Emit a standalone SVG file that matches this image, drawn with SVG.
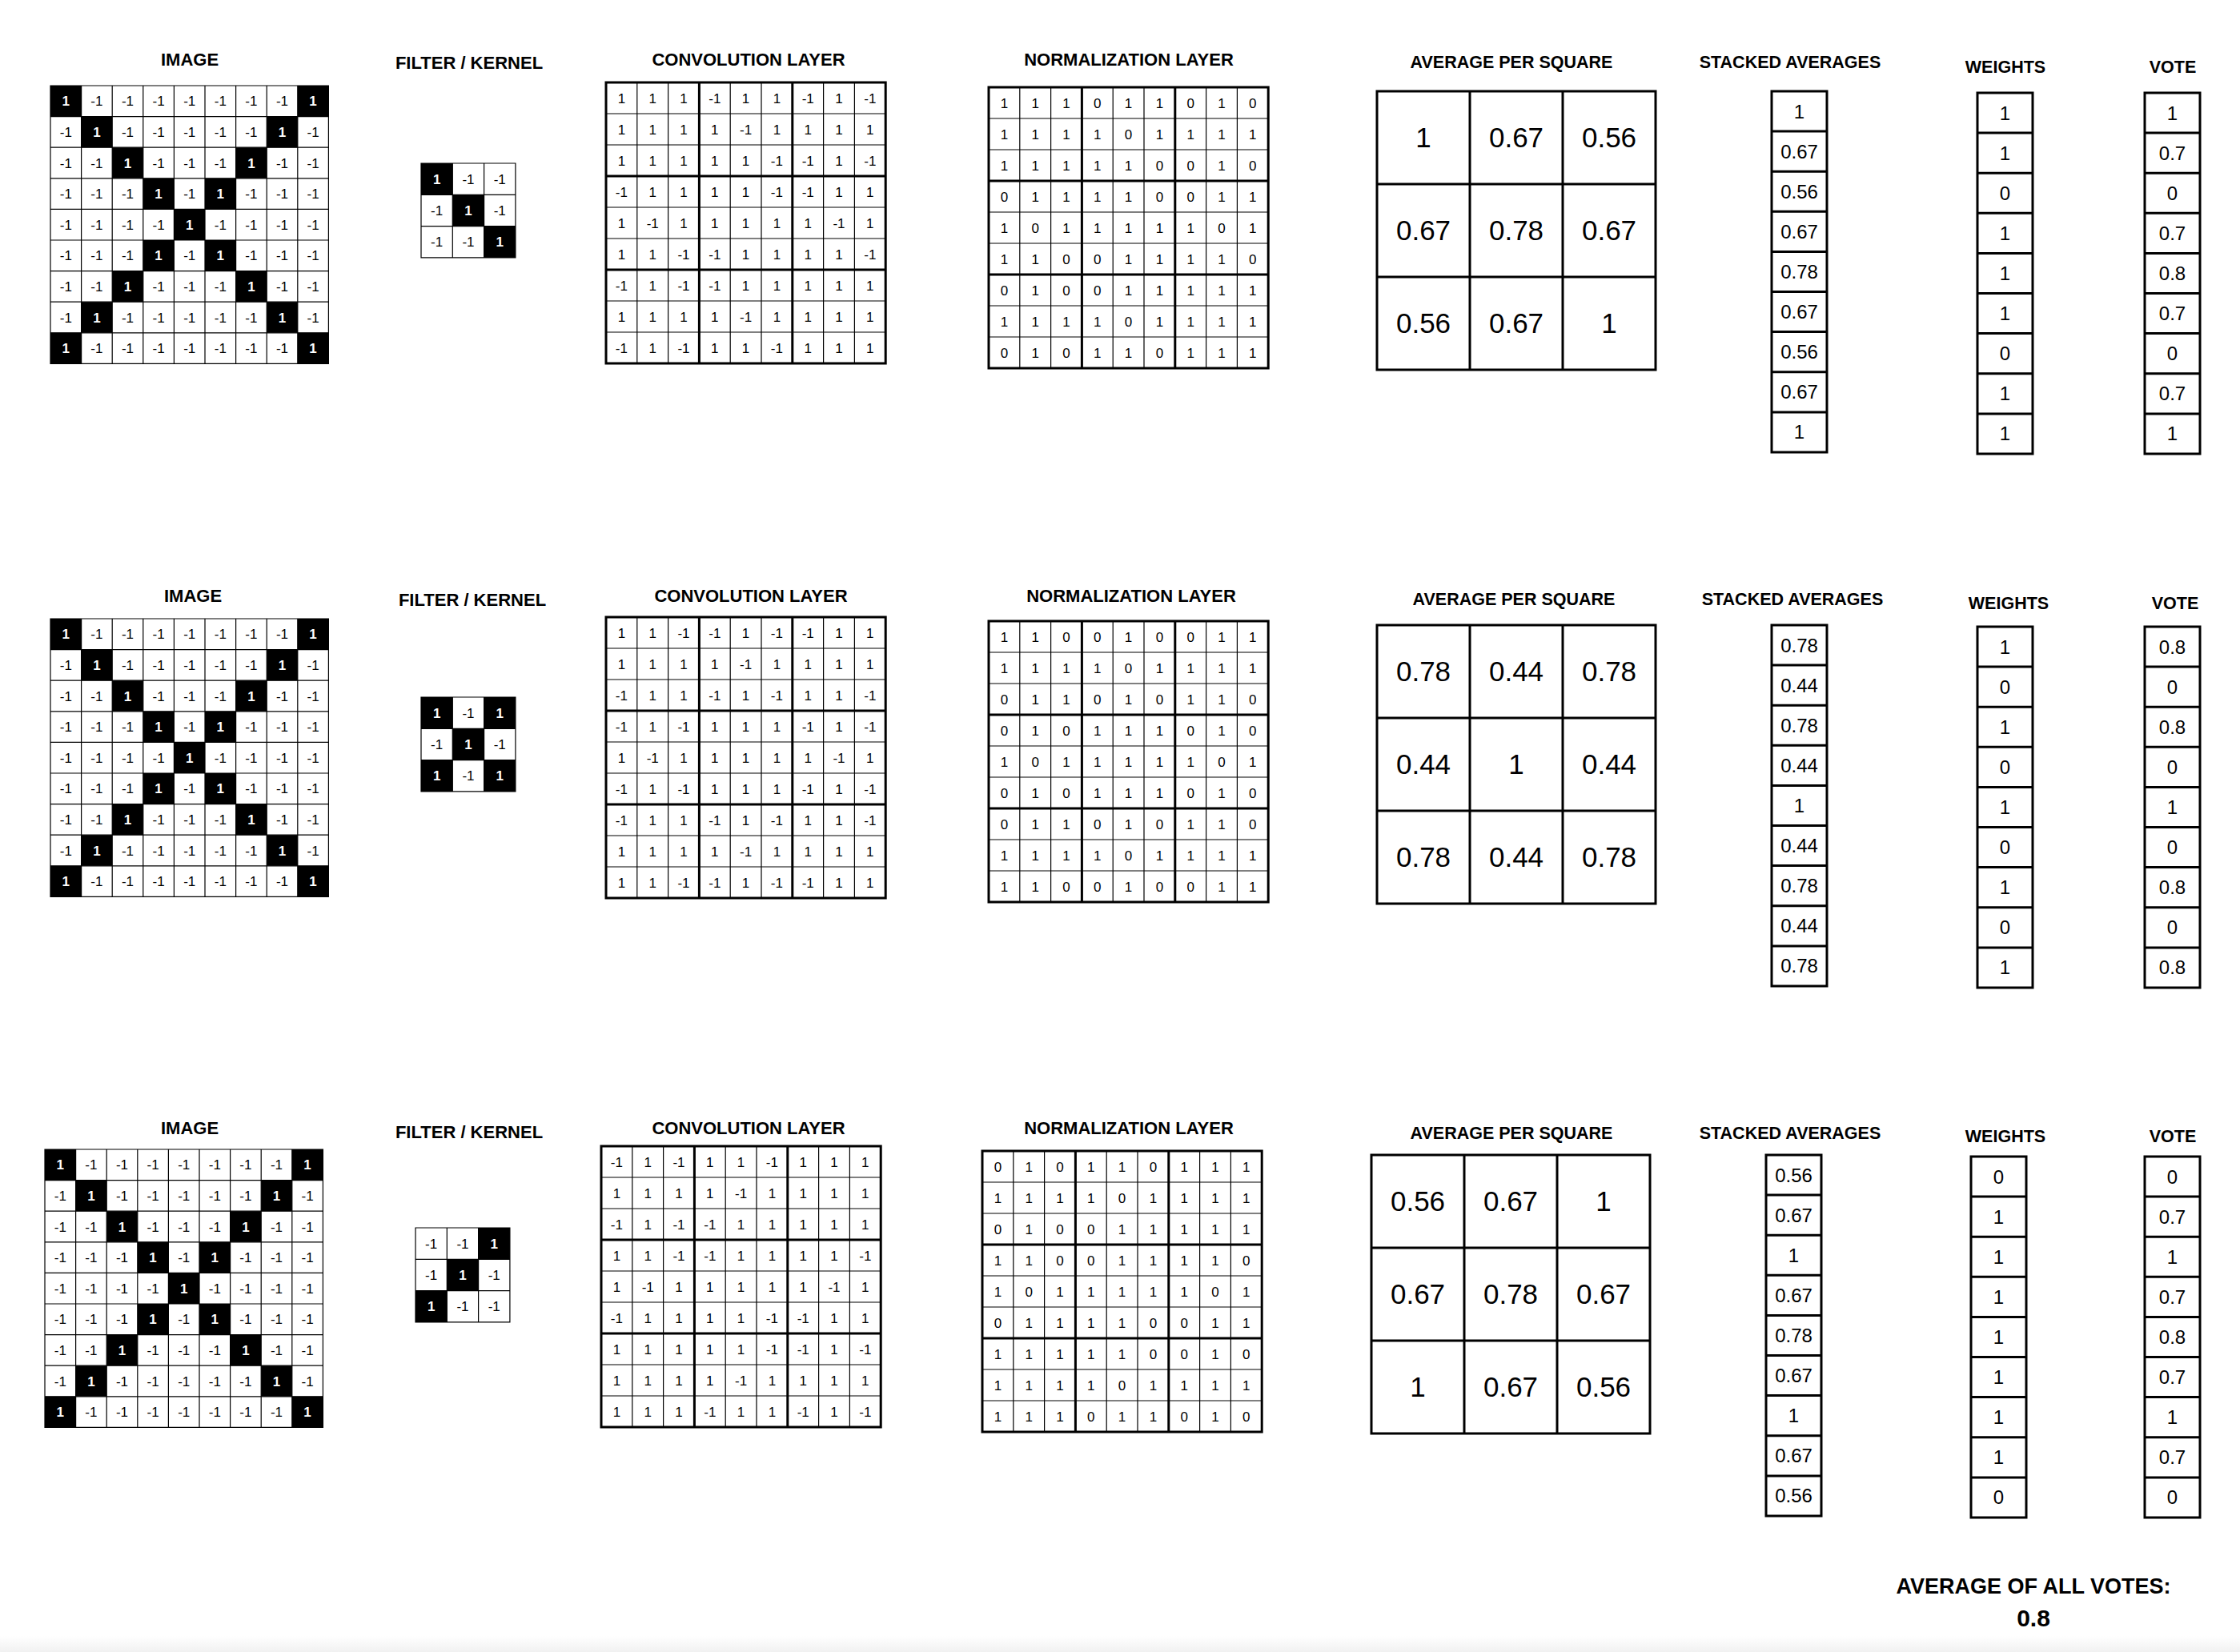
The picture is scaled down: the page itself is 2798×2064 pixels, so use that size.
<svg xmlns="http://www.w3.org/2000/svg" xmlns:xlink="http://www.w3.org/1999/xlink" width="2798" height="2064" viewBox="0 0 2798 2064">
<style>
.t{font-family:'Liberation Sans',Arial,Helvetica,sans-serif;text-anchor:middle;fill:#000}
.h{font-weight:bold;font-size:22px}
.hs{font-weight:bold;font-size:21.5px}
.n{font-size:17px}
.w{font-weight:bold;fill:#fff}
.a{font-size:35px}
.s{font-size:24px}
.thin{fill:none;stroke:#000;stroke-width:1.2}
.thick{fill:none;stroke:#000;stroke-width:3}
</style>
<defs>
<linearGradient id="fade" x1="0" y1="0" x2="0" y2="1"><stop offset="0" stop-color="#fff"/><stop offset="1" stop-color="#f1f1f1"/></linearGradient>
<g id="imgbase">
<rect width="347.4" height="347.4" fill="#fff"/>
<path fill="#000" d="M0 0h38.6v38.6h-38.6zM308.8 0h38.6v38.6h-38.6zM38.6 38.6h38.6v38.6h-38.6zM270.2 38.6h38.6v38.6h-38.6zM77.2 77.2h38.6v38.6h-38.6zM231.6 77.2h38.6v38.6h-38.6zM115.8 115.8h38.6v38.6h-38.6zM193 115.8h38.6v38.6h-38.6zM154.4 154.4h38.6v38.6h-38.6zM115.8 193h38.6v38.6h-38.6zM193 193h38.6v38.6h-38.6zM77.2 231.6h38.6v38.6h-38.6zM231.6 231.6h38.6v38.6h-38.6zM38.6 270.2h38.6v38.6h-38.6zM270.2 270.2h38.6v38.6h-38.6zM0 308.8h38.6v38.6h-38.6zM308.8 308.8h38.6v38.6h-38.6z"/>
<path class="thin" d="M0 0h347.4v347.4h-347.4zM38.6 0V347.4M77.2 0V347.4M115.8 0V347.4M154.4 0V347.4M193 0V347.4M231.6 0V347.4M270.2 0V347.4M308.8 0V347.4M0 38.6H347.4M0 77.2H347.4M0 115.8H347.4M0 154.4H347.4M0 193H347.4M0 231.6H347.4M0 270.2H347.4M0 308.8H347.4"/>
</g>
<g id="cnbase">
<rect width="349.2" height="351" fill="#fff"/>
<path class="thin" d="M38.8 0V351M77.6 0V351M155.2 0V351M194 0V351M271.6 0V351M310.4 0V351M0 39H349.2M0 78H349.2M0 156H349.2M0 195H349.2M0 273H349.2M0 312H349.2"/>
<path class="thick" d="M0 0h349.2v351h-349.2zM116.4 0V351M232.8 0V351M0 117H349.2M0 234H349.2"/>
</g>
<g id="avgbase">
<rect width="348" height="348" fill="#fff"/>
<path class="thick" d="M0 0h348v348h-348zM116 0V348M232 0V348M0 116H348M0 232H348"/>
</g>
<g id="colbase">
<rect width="69" height="451" fill="#fff"/>
<path class="thick" d="M0 0h69v451h-69zM0 50.1H69M0 100.2H69M0 150.3H69M0 200.4H69M0 250.5H69M0 300.6H69M0 350.8H69M0 400.9H69"/>
</g>
<path id="fgrid" class="thin" d="M0 0h117.9v117.9h-117.9zM39.3 0V117.9M78.6 0V117.9M0 39.3H117.9M0 78.6H117.9"/>
</defs>
<rect width="2798" height="2064" fill="#fff"/>
<rect y="2044" width="2798" height="20" fill="url(#fade)"/>

<!-- ================= ROW 1 ================= -->
<g id="r1-image">
<text class="t h" x="237" y="82">IMAGE</text>
<g transform="translate(63,107)">
<use href="#imgbase"/>
<g class="t n">
<text y="25.3"><tspan class="w" x="19.3">1</tspan><tspan x="57.9">-1</tspan><tspan x="96.5">-1</tspan><tspan x="135.1">-1</tspan><tspan x="173.7">-1</tspan><tspan x="212.3">-1</tspan><tspan x="250.9">-1</tspan><tspan x="289.5">-1</tspan><tspan class="w" x="328.1">1</tspan></text>
<text y="63.9"><tspan x="19.3">-1</tspan><tspan class="w" x="57.9">1</tspan><tspan x="96.5">-1</tspan><tspan x="135.1">-1</tspan><tspan x="173.7">-1</tspan><tspan x="212.3">-1</tspan><tspan x="250.9">-1</tspan><tspan class="w" x="289.5">1</tspan><tspan x="328.1">-1</tspan></text>
<text y="102.5"><tspan x="19.3">-1</tspan><tspan x="57.9">-1</tspan><tspan class="w" x="96.5">1</tspan><tspan x="135.1">-1</tspan><tspan x="173.7">-1</tspan><tspan x="212.3">-1</tspan><tspan class="w" x="250.9">1</tspan><tspan x="289.5">-1</tspan><tspan x="328.1">-1</tspan></text>
<text y="141.1"><tspan x="19.3">-1</tspan><tspan x="57.9">-1</tspan><tspan x="96.5">-1</tspan><tspan class="w" x="135.1">1</tspan><tspan x="173.7">-1</tspan><tspan class="w" x="212.3">1</tspan><tspan x="250.9">-1</tspan><tspan x="289.5">-1</tspan><tspan x="328.1">-1</tspan></text>
<text y="179.7"><tspan x="19.3">-1</tspan><tspan x="57.9">-1</tspan><tspan x="96.5">-1</tspan><tspan x="135.1">-1</tspan><tspan class="w" x="173.7">1</tspan><tspan x="212.3">-1</tspan><tspan x="250.9">-1</tspan><tspan x="289.5">-1</tspan><tspan x="328.1">-1</tspan></text>
<text y="218.3"><tspan x="19.3">-1</tspan><tspan x="57.9">-1</tspan><tspan x="96.5">-1</tspan><tspan class="w" x="135.1">1</tspan><tspan x="173.7">-1</tspan><tspan class="w" x="212.3">1</tspan><tspan x="250.9">-1</tspan><tspan x="289.5">-1</tspan><tspan x="328.1">-1</tspan></text>
<text y="256.9"><tspan x="19.3">-1</tspan><tspan x="57.9">-1</tspan><tspan class="w" x="96.5">1</tspan><tspan x="135.1">-1</tspan><tspan x="173.7">-1</tspan><tspan x="212.3">-1</tspan><tspan class="w" x="250.9">1</tspan><tspan x="289.5">-1</tspan><tspan x="328.1">-1</tspan></text>
<text y="295.5"><tspan x="19.3">-1</tspan><tspan class="w" x="57.9">1</tspan><tspan x="96.5">-1</tspan><tspan x="135.1">-1</tspan><tspan x="173.7">-1</tspan><tspan x="212.3">-1</tspan><tspan x="250.9">-1</tspan><tspan class="w" x="289.5">1</tspan><tspan x="328.1">-1</tspan></text>
<text y="334.1"><tspan class="w" x="19.3">1</tspan><tspan x="57.9">-1</tspan><tspan x="96.5">-1</tspan><tspan x="135.1">-1</tspan><tspan x="173.7">-1</tspan><tspan x="212.3">-1</tspan><tspan x="250.9">-1</tspan><tspan x="289.5">-1</tspan><tspan class="w" x="328.1">1</tspan></text>
</g></g></g>

<g id="r1-filter">
<text class="t h" x="586" y="86">FILTER / KERNEL</text>
<g transform="translate(526,204)">
<rect width="117.9" height="117.9" fill="#fff"/>
<path fill="#000" d="M0 0h39.3v39.3h-39.3zM39.3 39.3h39.3v39.3h-39.3zM78.6 78.6h39.3v39.3h-39.3z"/>
<use href="#fgrid"/>
<g class="t n">
<text y="25.6"><tspan class="w" x="19.65">1</tspan><tspan x="58.95">-1</tspan><tspan x="98.25">-1</tspan></text>
<text y="64.9"><tspan x="19.65">-1</tspan><tspan class="w" x="58.95">1</tspan><tspan x="98.25">-1</tspan></text>
<text y="104.2"><tspan x="19.65">-1</tspan><tspan x="58.95">-1</tspan><tspan class="w" x="98.25">1</tspan></text>
</g></g></g>

<g id="r1-conv">
<text class="t h" x="935" y="82">CONVOLUTION LAYER</text>
<g transform="translate(757,103)">
<use href="#cnbase"/>
<g class="t n">
<text y="25.5"><tspan x="19.4">1</tspan><tspan x="58.2">1</tspan><tspan x="97">1</tspan><tspan x="135.8">-1</tspan><tspan x="174.6">1</tspan><tspan x="213.4">1</tspan><tspan x="252.2">-1</tspan><tspan x="291">1</tspan><tspan x="329.8">-1</tspan></text>
<text y="64.5"><tspan x="19.4">1</tspan><tspan x="58.2">1</tspan><tspan x="97">1</tspan><tspan x="135.8">1</tspan><tspan x="174.6">-1</tspan><tspan x="213.4">1</tspan><tspan x="252.2">1</tspan><tspan x="291">1</tspan><tspan x="329.8">1</tspan></text>
<text y="103.5"><tspan x="19.4">1</tspan><tspan x="58.2">1</tspan><tspan x="97">1</tspan><tspan x="135.8">1</tspan><tspan x="174.6">1</tspan><tspan x="213.4">-1</tspan><tspan x="252.2">-1</tspan><tspan x="291">1</tspan><tspan x="329.8">-1</tspan></text>
<text y="142.5"><tspan x="19.4">-1</tspan><tspan x="58.2">1</tspan><tspan x="97">1</tspan><tspan x="135.8">1</tspan><tspan x="174.6">1</tspan><tspan x="213.4">-1</tspan><tspan x="252.2">-1</tspan><tspan x="291">1</tspan><tspan x="329.8">1</tspan></text>
<text y="181.5"><tspan x="19.4">1</tspan><tspan x="58.2">-1</tspan><tspan x="97">1</tspan><tspan x="135.8">1</tspan><tspan x="174.6">1</tspan><tspan x="213.4">1</tspan><tspan x="252.2">1</tspan><tspan x="291">-1</tspan><tspan x="329.8">1</tspan></text>
<text y="220.5"><tspan x="19.4">1</tspan><tspan x="58.2">1</tspan><tspan x="97">-1</tspan><tspan x="135.8">-1</tspan><tspan x="174.6">1</tspan><tspan x="213.4">1</tspan><tspan x="252.2">1</tspan><tspan x="291">1</tspan><tspan x="329.8">-1</tspan></text>
<text y="259.5"><tspan x="19.4">-1</tspan><tspan x="58.2">1</tspan><tspan x="97">-1</tspan><tspan x="135.8">-1</tspan><tspan x="174.6">1</tspan><tspan x="213.4">1</tspan><tspan x="252.2">1</tspan><tspan x="291">1</tspan><tspan x="329.8">1</tspan></text>
<text y="298.5"><tspan x="19.4">1</tspan><tspan x="58.2">1</tspan><tspan x="97">1</tspan><tspan x="135.8">1</tspan><tspan x="174.6">-1</tspan><tspan x="213.4">1</tspan><tspan x="252.2">1</tspan><tspan x="291">1</tspan><tspan x="329.8">1</tspan></text>
<text y="337.5"><tspan x="19.4">-1</tspan><tspan x="58.2">1</tspan><tspan x="97">-1</tspan><tspan x="135.8">1</tspan><tspan x="174.6">1</tspan><tspan x="213.4">-1</tspan><tspan x="252.2">1</tspan><tspan x="291">1</tspan><tspan x="329.8">1</tspan></text>
</g></g></g>

<g id="r1-norm">
<text class="t h" x="1410" y="82">NORMALIZATION LAYER</text>
<g transform="translate(1235,109)">
<use href="#cnbase"/>
<g class="t n">
<text y="25.5"><tspan x="19.4">1</tspan><tspan x="58.2">1</tspan><tspan x="97">1</tspan><tspan x="135.8">0</tspan><tspan x="174.6">1</tspan><tspan x="213.4">1</tspan><tspan x="252.2">0</tspan><tspan x="291">1</tspan><tspan x="329.8">0</tspan></text>
<text y="64.5"><tspan x="19.4">1</tspan><tspan x="58.2">1</tspan><tspan x="97">1</tspan><tspan x="135.8">1</tspan><tspan x="174.6">0</tspan><tspan x="213.4">1</tspan><tspan x="252.2">1</tspan><tspan x="291">1</tspan><tspan x="329.8">1</tspan></text>
<text y="103.5"><tspan x="19.4">1</tspan><tspan x="58.2">1</tspan><tspan x="97">1</tspan><tspan x="135.8">1</tspan><tspan x="174.6">1</tspan><tspan x="213.4">0</tspan><tspan x="252.2">0</tspan><tspan x="291">1</tspan><tspan x="329.8">0</tspan></text>
<text y="142.5"><tspan x="19.4">0</tspan><tspan x="58.2">1</tspan><tspan x="97">1</tspan><tspan x="135.8">1</tspan><tspan x="174.6">1</tspan><tspan x="213.4">0</tspan><tspan x="252.2">0</tspan><tspan x="291">1</tspan><tspan x="329.8">1</tspan></text>
<text y="181.5"><tspan x="19.4">1</tspan><tspan x="58.2">0</tspan><tspan x="97">1</tspan><tspan x="135.8">1</tspan><tspan x="174.6">1</tspan><tspan x="213.4">1</tspan><tspan x="252.2">1</tspan><tspan x="291">0</tspan><tspan x="329.8">1</tspan></text>
<text y="220.5"><tspan x="19.4">1</tspan><tspan x="58.2">1</tspan><tspan x="97">0</tspan><tspan x="135.8">0</tspan><tspan x="174.6">1</tspan><tspan x="213.4">1</tspan><tspan x="252.2">1</tspan><tspan x="291">1</tspan><tspan x="329.8">0</tspan></text>
<text y="259.5"><tspan x="19.4">0</tspan><tspan x="58.2">1</tspan><tspan x="97">0</tspan><tspan x="135.8">0</tspan><tspan x="174.6">1</tspan><tspan x="213.4">1</tspan><tspan x="252.2">1</tspan><tspan x="291">1</tspan><tspan x="329.8">1</tspan></text>
<text y="298.5"><tspan x="19.4">1</tspan><tspan x="58.2">1</tspan><tspan x="97">1</tspan><tspan x="135.8">1</tspan><tspan x="174.6">0</tspan><tspan x="213.4">1</tspan><tspan x="252.2">1</tspan><tspan x="291">1</tspan><tspan x="329.8">1</tspan></text>
<text y="337.5"><tspan x="19.4">0</tspan><tspan x="58.2">1</tspan><tspan x="97">0</tspan><tspan x="135.8">1</tspan><tspan x="174.6">1</tspan><tspan x="213.4">0</tspan><tspan x="252.2">1</tspan><tspan x="291">1</tspan><tspan x="329.8">1</tspan></text>
</g></g></g>

<g id="r1-avg">
<text class="t hs" x="1888" y="85">AVERAGE PER SQUARE</text>
<g transform="translate(1720,114)">
<use href="#avgbase"/>
<g class="t a">
<text y="70"><tspan x="58">1</tspan><tspan x="174">0.67</tspan><tspan x="290">0.56</tspan></text>
<text y="186"><tspan x="58">0.67</tspan><tspan x="174">0.78</tspan><tspan x="290">0.67</tspan></text>
<text y="302"><tspan x="58">0.56</tspan><tspan x="174">0.67</tspan><tspan x="290">1</tspan></text>
</g></g></g>

<g id="r1-stacked">
<text class="t hs" x="2236" y="85">STACKED AVERAGES</text>
<g transform="translate(2213,114)">
<use href="#colbase"/>
<text class="t s"><tspan x="34.5" y="33.5">1</tspan><tspan x="34.5" y="83.6">0.67</tspan><tspan x="34.5" y="133.7">0.56</tspan><tspan x="34.5" y="183.8">0.67</tspan><tspan x="34.5" y="233.9">0.78</tspan><tspan x="34.5" y="284">0.67</tspan><tspan x="34.5" y="334.1">0.56</tspan><tspan x="34.5" y="384.2">0.67</tspan><tspan x="34.5" y="434.3">1</tspan></text>
</g></g>

<g id="r1-weights">
<text class="t hs" x="2505" y="91">WEIGHTS</text>
<g transform="translate(2470,116)">
<use href="#colbase"/>
<text class="t s"><tspan x="34.5" y="33.5">1</tspan><tspan x="34.5" y="83.6">1</tspan><tspan x="34.5" y="133.7">0</tspan><tspan x="34.5" y="183.8">1</tspan><tspan x="34.5" y="233.9">1</tspan><tspan x="34.5" y="284">1</tspan><tspan x="34.5" y="334.1">0</tspan><tspan x="34.5" y="384.2">1</tspan><tspan x="34.5" y="434.3">1</tspan></text>
</g></g>

<g id="r1-vote">
<text class="t hs" x="2714" y="91">VOTE</text>
<g transform="translate(2679,116)">
<use href="#colbase"/>
<text class="t s"><tspan x="34.5" y="33.5">1</tspan><tspan x="34.5" y="83.6">0.7</tspan><tspan x="34.5" y="133.7">0</tspan><tspan x="34.5" y="183.8">0.7</tspan><tspan x="34.5" y="233.9">0.8</tspan><tspan x="34.5" y="284">0.7</tspan><tspan x="34.5" y="334.1">0</tspan><tspan x="34.5" y="384.2">0.7</tspan><tspan x="34.5" y="434.3">1</tspan></text>
</g></g>

<!-- ================= ROW 2 ================= -->
<g id="r2-image">
<text class="t h" x="241" y="752">IMAGE</text>
<g transform="translate(63,773)">
<use href="#imgbase"/>
<g class="t n">
<text y="25.3"><tspan class="w" x="19.3">1</tspan><tspan x="57.9">-1</tspan><tspan x="96.5">-1</tspan><tspan x="135.1">-1</tspan><tspan x="173.7">-1</tspan><tspan x="212.3">-1</tspan><tspan x="250.9">-1</tspan><tspan x="289.5">-1</tspan><tspan class="w" x="328.1">1</tspan></text>
<text y="63.9"><tspan x="19.3">-1</tspan><tspan class="w" x="57.9">1</tspan><tspan x="96.5">-1</tspan><tspan x="135.1">-1</tspan><tspan x="173.7">-1</tspan><tspan x="212.3">-1</tspan><tspan x="250.9">-1</tspan><tspan class="w" x="289.5">1</tspan><tspan x="328.1">-1</tspan></text>
<text y="102.5"><tspan x="19.3">-1</tspan><tspan x="57.9">-1</tspan><tspan class="w" x="96.5">1</tspan><tspan x="135.1">-1</tspan><tspan x="173.7">-1</tspan><tspan x="212.3">-1</tspan><tspan class="w" x="250.9">1</tspan><tspan x="289.5">-1</tspan><tspan x="328.1">-1</tspan></text>
<text y="141.1"><tspan x="19.3">-1</tspan><tspan x="57.9">-1</tspan><tspan x="96.5">-1</tspan><tspan class="w" x="135.1">1</tspan><tspan x="173.7">-1</tspan><tspan class="w" x="212.3">1</tspan><tspan x="250.9">-1</tspan><tspan x="289.5">-1</tspan><tspan x="328.1">-1</tspan></text>
<text y="179.7"><tspan x="19.3">-1</tspan><tspan x="57.9">-1</tspan><tspan x="96.5">-1</tspan><tspan x="135.1">-1</tspan><tspan class="w" x="173.7">1</tspan><tspan x="212.3">-1</tspan><tspan x="250.9">-1</tspan><tspan x="289.5">-1</tspan><tspan x="328.1">-1</tspan></text>
<text y="218.3"><tspan x="19.3">-1</tspan><tspan x="57.9">-1</tspan><tspan x="96.5">-1</tspan><tspan class="w" x="135.1">1</tspan><tspan x="173.7">-1</tspan><tspan class="w" x="212.3">1</tspan><tspan x="250.9">-1</tspan><tspan x="289.5">-1</tspan><tspan x="328.1">-1</tspan></text>
<text y="256.9"><tspan x="19.3">-1</tspan><tspan x="57.9">-1</tspan><tspan class="w" x="96.5">1</tspan><tspan x="135.1">-1</tspan><tspan x="173.7">-1</tspan><tspan x="212.3">-1</tspan><tspan class="w" x="250.9">1</tspan><tspan x="289.5">-1</tspan><tspan x="328.1">-1</tspan></text>
<text y="295.5"><tspan x="19.3">-1</tspan><tspan class="w" x="57.9">1</tspan><tspan x="96.5">-1</tspan><tspan x="135.1">-1</tspan><tspan x="173.7">-1</tspan><tspan x="212.3">-1</tspan><tspan x="250.9">-1</tspan><tspan class="w" x="289.5">1</tspan><tspan x="328.1">-1</tspan></text>
<text y="334.1"><tspan class="w" x="19.3">1</tspan><tspan x="57.9">-1</tspan><tspan x="96.5">-1</tspan><tspan x="135.1">-1</tspan><tspan x="173.7">-1</tspan><tspan x="212.3">-1</tspan><tspan x="250.9">-1</tspan><tspan x="289.5">-1</tspan><tspan class="w" x="328.1">1</tspan></text>
</g></g></g>

<g id="r2-filter">
<text class="t h" x="590" y="757">FILTER / KERNEL</text>
<g transform="translate(526,871)">
<rect width="117.9" height="117.9" fill="#fff"/>
<path fill="#000" d="M0 0h39.3v39.3h-39.3zM78.6 0h39.3v39.3h-39.3zM39.3 39.3h39.3v39.3h-39.3zM0 78.6h39.3v39.3h-39.3zM78.6 78.6h39.3v39.3h-39.3z"/>
<use href="#fgrid"/>
<g class="t n">
<text y="25.6"><tspan class="w" x="19.65">1</tspan><tspan x="58.95">-1</tspan><tspan class="w" x="98.25">1</tspan></text>
<text y="64.9"><tspan x="19.65">-1</tspan><tspan class="w" x="58.95">1</tspan><tspan x="98.25">-1</tspan></text>
<text y="104.2"><tspan class="w" x="19.65">1</tspan><tspan x="58.95">-1</tspan><tspan class="w" x="98.25">1</tspan></text>
</g></g></g>

<g id="r2-conv">
<text class="t h" x="938" y="752">CONVOLUTION LAYER</text>
<g transform="translate(757,771)">
<use href="#cnbase"/>
<g class="t n">
<text y="25.5"><tspan x="19.4">1</tspan><tspan x="58.2">1</tspan><tspan x="97">-1</tspan><tspan x="135.8">-1</tspan><tspan x="174.6">1</tspan><tspan x="213.4">-1</tspan><tspan x="252.2">-1</tspan><tspan x="291">1</tspan><tspan x="329.8">1</tspan></text>
<text y="64.5"><tspan x="19.4">1</tspan><tspan x="58.2">1</tspan><tspan x="97">1</tspan><tspan x="135.8">1</tspan><tspan x="174.6">-1</tspan><tspan x="213.4">1</tspan><tspan x="252.2">1</tspan><tspan x="291">1</tspan><tspan x="329.8">1</tspan></text>
<text y="103.5"><tspan x="19.4">-1</tspan><tspan x="58.2">1</tspan><tspan x="97">1</tspan><tspan x="135.8">-1</tspan><tspan x="174.6">1</tspan><tspan x="213.4">-1</tspan><tspan x="252.2">1</tspan><tspan x="291">1</tspan><tspan x="329.8">-1</tspan></text>
<text y="142.5"><tspan x="19.4">-1</tspan><tspan x="58.2">1</tspan><tspan x="97">-1</tspan><tspan x="135.8">1</tspan><tspan x="174.6">1</tspan><tspan x="213.4">1</tspan><tspan x="252.2">-1</tspan><tspan x="291">1</tspan><tspan x="329.8">-1</tspan></text>
<text y="181.5"><tspan x="19.4">1</tspan><tspan x="58.2">-1</tspan><tspan x="97">1</tspan><tspan x="135.8">1</tspan><tspan x="174.6">1</tspan><tspan x="213.4">1</tspan><tspan x="252.2">1</tspan><tspan x="291">-1</tspan><tspan x="329.8">1</tspan></text>
<text y="220.5"><tspan x="19.4">-1</tspan><tspan x="58.2">1</tspan><tspan x="97">-1</tspan><tspan x="135.8">1</tspan><tspan x="174.6">1</tspan><tspan x="213.4">1</tspan><tspan x="252.2">-1</tspan><tspan x="291">1</tspan><tspan x="329.8">-1</tspan></text>
<text y="259.5"><tspan x="19.4">-1</tspan><tspan x="58.2">1</tspan><tspan x="97">1</tspan><tspan x="135.8">-1</tspan><tspan x="174.6">1</tspan><tspan x="213.4">-1</tspan><tspan x="252.2">1</tspan><tspan x="291">1</tspan><tspan x="329.8">-1</tspan></text>
<text y="298.5"><tspan x="19.4">1</tspan><tspan x="58.2">1</tspan><tspan x="97">1</tspan><tspan x="135.8">1</tspan><tspan x="174.6">-1</tspan><tspan x="213.4">1</tspan><tspan x="252.2">1</tspan><tspan x="291">1</tspan><tspan x="329.8">1</tspan></text>
<text y="337.5"><tspan x="19.4">1</tspan><tspan x="58.2">1</tspan><tspan x="97">-1</tspan><tspan x="135.8">-1</tspan><tspan x="174.6">1</tspan><tspan x="213.4">-1</tspan><tspan x="252.2">-1</tspan><tspan x="291">1</tspan><tspan x="329.8">1</tspan></text>
</g></g></g>

<g id="r2-norm">
<text class="t h" x="1413" y="752">NORMALIZATION LAYER</text>
<g transform="translate(1235,776)">
<use href="#cnbase"/>
<g class="t n">
<text y="25.5"><tspan x="19.4">1</tspan><tspan x="58.2">1</tspan><tspan x="97">0</tspan><tspan x="135.8">0</tspan><tspan x="174.6">1</tspan><tspan x="213.4">0</tspan><tspan x="252.2">0</tspan><tspan x="291">1</tspan><tspan x="329.8">1</tspan></text>
<text y="64.5"><tspan x="19.4">1</tspan><tspan x="58.2">1</tspan><tspan x="97">1</tspan><tspan x="135.8">1</tspan><tspan x="174.6">0</tspan><tspan x="213.4">1</tspan><tspan x="252.2">1</tspan><tspan x="291">1</tspan><tspan x="329.8">1</tspan></text>
<text y="103.5"><tspan x="19.4">0</tspan><tspan x="58.2">1</tspan><tspan x="97">1</tspan><tspan x="135.8">0</tspan><tspan x="174.6">1</tspan><tspan x="213.4">0</tspan><tspan x="252.2">1</tspan><tspan x="291">1</tspan><tspan x="329.8">0</tspan></text>
<text y="142.5"><tspan x="19.4">0</tspan><tspan x="58.2">1</tspan><tspan x="97">0</tspan><tspan x="135.8">1</tspan><tspan x="174.6">1</tspan><tspan x="213.4">1</tspan><tspan x="252.2">0</tspan><tspan x="291">1</tspan><tspan x="329.8">0</tspan></text>
<text y="181.5"><tspan x="19.4">1</tspan><tspan x="58.2">0</tspan><tspan x="97">1</tspan><tspan x="135.8">1</tspan><tspan x="174.6">1</tspan><tspan x="213.4">1</tspan><tspan x="252.2">1</tspan><tspan x="291">0</tspan><tspan x="329.8">1</tspan></text>
<text y="220.5"><tspan x="19.4">0</tspan><tspan x="58.2">1</tspan><tspan x="97">0</tspan><tspan x="135.8">1</tspan><tspan x="174.6">1</tspan><tspan x="213.4">1</tspan><tspan x="252.2">0</tspan><tspan x="291">1</tspan><tspan x="329.8">0</tspan></text>
<text y="259.5"><tspan x="19.4">0</tspan><tspan x="58.2">1</tspan><tspan x="97">1</tspan><tspan x="135.8">0</tspan><tspan x="174.6">1</tspan><tspan x="213.4">0</tspan><tspan x="252.2">1</tspan><tspan x="291">1</tspan><tspan x="329.8">0</tspan></text>
<text y="298.5"><tspan x="19.4">1</tspan><tspan x="58.2">1</tspan><tspan x="97">1</tspan><tspan x="135.8">1</tspan><tspan x="174.6">0</tspan><tspan x="213.4">1</tspan><tspan x="252.2">1</tspan><tspan x="291">1</tspan><tspan x="329.8">1</tspan></text>
<text y="337.5"><tspan x="19.4">1</tspan><tspan x="58.2">1</tspan><tspan x="97">0</tspan><tspan x="135.8">0</tspan><tspan x="174.6">1</tspan><tspan x="213.4">0</tspan><tspan x="252.2">0</tspan><tspan x="291">1</tspan><tspan x="329.8">1</tspan></text>
</g></g></g>

<g id="r2-avg">
<text class="t hs" x="1891" y="756">AVERAGE PER SQUARE</text>
<g transform="translate(1720,781)">
<use href="#avgbase"/>
<g class="t a">
<text y="70"><tspan x="58">0.78</tspan><tspan x="174">0.44</tspan><tspan x="290">0.78</tspan></text>
<text y="186"><tspan x="58">0.44</tspan><tspan x="174">1</tspan><tspan x="290">0.44</tspan></text>
<text y="302"><tspan x="58">0.78</tspan><tspan x="174">0.44</tspan><tspan x="290">0.78</tspan></text>
</g></g></g>

<g id="r2-stacked">
<text class="t hs" x="2239" y="756">STACKED AVERAGES</text>
<g transform="translate(2213,781)">
<use href="#colbase"/>
<text class="t s"><tspan x="34.5" y="33.5">0.78</tspan><tspan x="34.5" y="83.6">0.44</tspan><tspan x="34.5" y="133.7">0.78</tspan><tspan x="34.5" y="183.8">0.44</tspan><tspan x="34.5" y="233.9">1</tspan><tspan x="34.5" y="284">0.44</tspan><tspan x="34.5" y="334.1">0.78</tspan><tspan x="34.5" y="384.2">0.44</tspan><tspan x="34.5" y="434.3">0.78</tspan></text>
</g></g>

<g id="r2-weights">
<text class="t hs" x="2509" y="761">WEIGHTS</text>
<g transform="translate(2470,783)">
<use href="#colbase"/>
<text class="t s"><tspan x="34.5" y="33.5">1</tspan><tspan x="34.5" y="83.6">0</tspan><tspan x="34.5" y="133.7">1</tspan><tspan x="34.5" y="183.8">0</tspan><tspan x="34.5" y="233.9">1</tspan><tspan x="34.5" y="284">0</tspan><tspan x="34.5" y="334.1">1</tspan><tspan x="34.5" y="384.2">0</tspan><tspan x="34.5" y="434.3">1</tspan></text>
</g></g>

<g id="r2-vote">
<text class="t hs" x="2717" y="761">VOTE</text>
<g transform="translate(2679,783)">
<use href="#colbase"/>
<text class="t s"><tspan x="34.5" y="33.5">0.8</tspan><tspan x="34.5" y="83.6">0</tspan><tspan x="34.5" y="133.7">0.8</tspan><tspan x="34.5" y="183.8">0</tspan><tspan x="34.5" y="233.9">1</tspan><tspan x="34.5" y="284">0</tspan><tspan x="34.5" y="334.1">0.8</tspan><tspan x="34.5" y="384.2">0</tspan><tspan x="34.5" y="434.3">0.8</tspan></text>
</g></g>

<!-- ================= ROW 3 ================= -->
<g id="r3-image">
<text class="t h" x="237" y="1417">IMAGE</text>
<g transform="translate(56,1436)">
<use href="#imgbase"/>
<g class="t n">
<text y="25.3"><tspan class="w" x="19.3">1</tspan><tspan x="57.9">-1</tspan><tspan x="96.5">-1</tspan><tspan x="135.1">-1</tspan><tspan x="173.7">-1</tspan><tspan x="212.3">-1</tspan><tspan x="250.9">-1</tspan><tspan x="289.5">-1</tspan><tspan class="w" x="328.1">1</tspan></text>
<text y="63.9"><tspan x="19.3">-1</tspan><tspan class="w" x="57.9">1</tspan><tspan x="96.5">-1</tspan><tspan x="135.1">-1</tspan><tspan x="173.7">-1</tspan><tspan x="212.3">-1</tspan><tspan x="250.9">-1</tspan><tspan class="w" x="289.5">1</tspan><tspan x="328.1">-1</tspan></text>
<text y="102.5"><tspan x="19.3">-1</tspan><tspan x="57.9">-1</tspan><tspan class="w" x="96.5">1</tspan><tspan x="135.1">-1</tspan><tspan x="173.7">-1</tspan><tspan x="212.3">-1</tspan><tspan class="w" x="250.9">1</tspan><tspan x="289.5">-1</tspan><tspan x="328.1">-1</tspan></text>
<text y="141.1"><tspan x="19.3">-1</tspan><tspan x="57.9">-1</tspan><tspan x="96.5">-1</tspan><tspan class="w" x="135.1">1</tspan><tspan x="173.7">-1</tspan><tspan class="w" x="212.3">1</tspan><tspan x="250.9">-1</tspan><tspan x="289.5">-1</tspan><tspan x="328.1">-1</tspan></text>
<text y="179.7"><tspan x="19.3">-1</tspan><tspan x="57.9">-1</tspan><tspan x="96.5">-1</tspan><tspan x="135.1">-1</tspan><tspan class="w" x="173.7">1</tspan><tspan x="212.3">-1</tspan><tspan x="250.9">-1</tspan><tspan x="289.5">-1</tspan><tspan x="328.1">-1</tspan></text>
<text y="218.3"><tspan x="19.3">-1</tspan><tspan x="57.9">-1</tspan><tspan x="96.5">-1</tspan><tspan class="w" x="135.1">1</tspan><tspan x="173.7">-1</tspan><tspan class="w" x="212.3">1</tspan><tspan x="250.9">-1</tspan><tspan x="289.5">-1</tspan><tspan x="328.1">-1</tspan></text>
<text y="256.9"><tspan x="19.3">-1</tspan><tspan x="57.9">-1</tspan><tspan class="w" x="96.5">1</tspan><tspan x="135.1">-1</tspan><tspan x="173.7">-1</tspan><tspan x="212.3">-1</tspan><tspan class="w" x="250.9">1</tspan><tspan x="289.5">-1</tspan><tspan x="328.1">-1</tspan></text>
<text y="295.5"><tspan x="19.3">-1</tspan><tspan class="w" x="57.9">1</tspan><tspan x="96.5">-1</tspan><tspan x="135.1">-1</tspan><tspan x="173.7">-1</tspan><tspan x="212.3">-1</tspan><tspan x="250.9">-1</tspan><tspan class="w" x="289.5">1</tspan><tspan x="328.1">-1</tspan></text>
<text y="334.1"><tspan class="w" x="19.3">1</tspan><tspan x="57.9">-1</tspan><tspan x="96.5">-1</tspan><tspan x="135.1">-1</tspan><tspan x="173.7">-1</tspan><tspan x="212.3">-1</tspan><tspan x="250.9">-1</tspan><tspan x="289.5">-1</tspan><tspan class="w" x="328.1">1</tspan></text>
</g></g></g>

<g id="r3-filter">
<text class="t h" x="586" y="1422">FILTER / KERNEL</text>
<g transform="translate(519,1534)">
<rect width="117.9" height="117.9" fill="#fff"/>
<path fill="#000" d="M78.6 0h39.3v39.3h-39.3zM39.3 39.3h39.3v39.3h-39.3zM0 78.6h39.3v39.3h-39.3z"/>
<use href="#fgrid"/>
<g class="t n">
<text y="25.6"><tspan x="19.65">-1</tspan><tspan x="58.95">-1</tspan><tspan class="w" x="98.25">1</tspan></text>
<text y="64.9"><tspan x="19.65">-1</tspan><tspan class="w" x="58.95">1</tspan><tspan x="98.25">-1</tspan></text>
<text y="104.2"><tspan class="w" x="19.65">1</tspan><tspan x="58.95">-1</tspan><tspan x="98.25">-1</tspan></text>
</g></g></g>

<g id="r3-conv">
<text class="t h" x="935" y="1417">CONVOLUTION LAYER</text>
<g transform="translate(751,1432)">
<use href="#cnbase"/>
<g class="t n">
<text y="25.5"><tspan x="19.4">-1</tspan><tspan x="58.2">1</tspan><tspan x="97">-1</tspan><tspan x="135.8">1</tspan><tspan x="174.6">1</tspan><tspan x="213.4">-1</tspan><tspan x="252.2">1</tspan><tspan x="291">1</tspan><tspan x="329.8">1</tspan></text>
<text y="64.5"><tspan x="19.4">1</tspan><tspan x="58.2">1</tspan><tspan x="97">1</tspan><tspan x="135.8">1</tspan><tspan x="174.6">-1</tspan><tspan x="213.4">1</tspan><tspan x="252.2">1</tspan><tspan x="291">1</tspan><tspan x="329.8">1</tspan></text>
<text y="103.5"><tspan x="19.4">-1</tspan><tspan x="58.2">1</tspan><tspan x="97">-1</tspan><tspan x="135.8">-1</tspan><tspan x="174.6">1</tspan><tspan x="213.4">1</tspan><tspan x="252.2">1</tspan><tspan x="291">1</tspan><tspan x="329.8">1</tspan></text>
<text y="142.5"><tspan x="19.4">1</tspan><tspan x="58.2">1</tspan><tspan x="97">-1</tspan><tspan x="135.8">-1</tspan><tspan x="174.6">1</tspan><tspan x="213.4">1</tspan><tspan x="252.2">1</tspan><tspan x="291">1</tspan><tspan x="329.8">-1</tspan></text>
<text y="181.5"><tspan x="19.4">1</tspan><tspan x="58.2">-1</tspan><tspan x="97">1</tspan><tspan x="135.8">1</tspan><tspan x="174.6">1</tspan><tspan x="213.4">1</tspan><tspan x="252.2">1</tspan><tspan x="291">-1</tspan><tspan x="329.8">1</tspan></text>
<text y="220.5"><tspan x="19.4">-1</tspan><tspan x="58.2">1</tspan><tspan x="97">1</tspan><tspan x="135.8">1</tspan><tspan x="174.6">1</tspan><tspan x="213.4">-1</tspan><tspan x="252.2">-1</tspan><tspan x="291">1</tspan><tspan x="329.8">1</tspan></text>
<text y="259.5"><tspan x="19.4">1</tspan><tspan x="58.2">1</tspan><tspan x="97">1</tspan><tspan x="135.8">1</tspan><tspan x="174.6">1</tspan><tspan x="213.4">-1</tspan><tspan x="252.2">-1</tspan><tspan x="291">1</tspan><tspan x="329.8">-1</tspan></text>
<text y="298.5"><tspan x="19.4">1</tspan><tspan x="58.2">1</tspan><tspan x="97">1</tspan><tspan x="135.8">1</tspan><tspan x="174.6">-1</tspan><tspan x="213.4">1</tspan><tspan x="252.2">1</tspan><tspan x="291">1</tspan><tspan x="329.8">1</tspan></text>
<text y="337.5"><tspan x="19.4">1</tspan><tspan x="58.2">1</tspan><tspan x="97">1</tspan><tspan x="135.8">-1</tspan><tspan x="174.6">1</tspan><tspan x="213.4">1</tspan><tspan x="252.2">-1</tspan><tspan x="291">1</tspan><tspan x="329.8">-1</tspan></text>
</g></g></g>

<g id="r3-norm">
<text class="t h" x="1410" y="1417">NORMALIZATION LAYER</text>
<g transform="translate(1227,1438)">
<use href="#cnbase"/>
<g class="t n">
<text y="25.5"><tspan x="19.4">0</tspan><tspan x="58.2">1</tspan><tspan x="97">0</tspan><tspan x="135.8">1</tspan><tspan x="174.6">1</tspan><tspan x="213.4">0</tspan><tspan x="252.2">1</tspan><tspan x="291">1</tspan><tspan x="329.8">1</tspan></text>
<text y="64.5"><tspan x="19.4">1</tspan><tspan x="58.2">1</tspan><tspan x="97">1</tspan><tspan x="135.8">1</tspan><tspan x="174.6">0</tspan><tspan x="213.4">1</tspan><tspan x="252.2">1</tspan><tspan x="291">1</tspan><tspan x="329.8">1</tspan></text>
<text y="103.5"><tspan x="19.4">0</tspan><tspan x="58.2">1</tspan><tspan x="97">0</tspan><tspan x="135.8">0</tspan><tspan x="174.6">1</tspan><tspan x="213.4">1</tspan><tspan x="252.2">1</tspan><tspan x="291">1</tspan><tspan x="329.8">1</tspan></text>
<text y="142.5"><tspan x="19.4">1</tspan><tspan x="58.2">1</tspan><tspan x="97">0</tspan><tspan x="135.8">0</tspan><tspan x="174.6">1</tspan><tspan x="213.4">1</tspan><tspan x="252.2">1</tspan><tspan x="291">1</tspan><tspan x="329.8">0</tspan></text>
<text y="181.5"><tspan x="19.4">1</tspan><tspan x="58.2">0</tspan><tspan x="97">1</tspan><tspan x="135.8">1</tspan><tspan x="174.6">1</tspan><tspan x="213.4">1</tspan><tspan x="252.2">1</tspan><tspan x="291">0</tspan><tspan x="329.8">1</tspan></text>
<text y="220.5"><tspan x="19.4">0</tspan><tspan x="58.2">1</tspan><tspan x="97">1</tspan><tspan x="135.8">1</tspan><tspan x="174.6">1</tspan><tspan x="213.4">0</tspan><tspan x="252.2">0</tspan><tspan x="291">1</tspan><tspan x="329.8">1</tspan></text>
<text y="259.5"><tspan x="19.4">1</tspan><tspan x="58.2">1</tspan><tspan x="97">1</tspan><tspan x="135.8">1</tspan><tspan x="174.6">1</tspan><tspan x="213.4">0</tspan><tspan x="252.2">0</tspan><tspan x="291">1</tspan><tspan x="329.8">0</tspan></text>
<text y="298.5"><tspan x="19.4">1</tspan><tspan x="58.2">1</tspan><tspan x="97">1</tspan><tspan x="135.8">1</tspan><tspan x="174.6">0</tspan><tspan x="213.4">1</tspan><tspan x="252.2">1</tspan><tspan x="291">1</tspan><tspan x="329.8">1</tspan></text>
<text y="337.5"><tspan x="19.4">1</tspan><tspan x="58.2">1</tspan><tspan x="97">1</tspan><tspan x="135.8">0</tspan><tspan x="174.6">1</tspan><tspan x="213.4">1</tspan><tspan x="252.2">0</tspan><tspan x="291">1</tspan><tspan x="329.8">0</tspan></text>
</g></g></g>

<g id="r3-avg">
<text class="t hs" x="1888" y="1423">AVERAGE PER SQUARE</text>
<g transform="translate(1713,1443)">
<use href="#avgbase"/>
<g class="t a">
<text y="70"><tspan x="58">0.56</tspan><tspan x="174">0.67</tspan><tspan x="290">1</tspan></text>
<text y="186"><tspan x="58">0.67</tspan><tspan x="174">0.78</tspan><tspan x="290">0.67</tspan></text>
<text y="302"><tspan x="58">1</tspan><tspan x="174">0.67</tspan><tspan x="290">0.56</tspan></text>
</g></g></g>

<g id="r3-stacked">
<text class="t hs" x="2236" y="1423">STACKED AVERAGES</text>
<g transform="translate(2206,1443)">
<use href="#colbase"/>
<text class="t s"><tspan x="34.5" y="33.5">0.56</tspan><tspan x="34.5" y="83.6">0.67</tspan><tspan x="34.5" y="133.7">1</tspan><tspan x="34.5" y="183.8">0.67</tspan><tspan x="34.5" y="233.9">0.78</tspan><tspan x="34.5" y="284">0.67</tspan><tspan x="34.5" y="334.1">1</tspan><tspan x="34.5" y="384.2">0.67</tspan><tspan x="34.5" y="434.3">0.56</tspan></text>
</g></g>

<g id="r3-weights">
<text class="t hs" x="2505" y="1427">WEIGHTS</text>
<g transform="translate(2462,1445)">
<use href="#colbase"/>
<text class="t s"><tspan x="34.5" y="33.5">0</tspan><tspan x="34.5" y="83.6">1</tspan><tspan x="34.5" y="133.7">1</tspan><tspan x="34.5" y="183.8">1</tspan><tspan x="34.5" y="233.9">1</tspan><tspan x="34.5" y="284">1</tspan><tspan x="34.5" y="334.1">1</tspan><tspan x="34.5" y="384.2">1</tspan><tspan x="34.5" y="434.3">0</tspan></text>
</g></g>

<g id="r3-vote">
<text class="t hs" x="2714" y="1427">VOTE</text>
<g transform="translate(2679,1445)">
<use href="#colbase"/>
<text class="t s"><tspan x="34.5" y="33.5">0</tspan><tspan x="34.5" y="83.6">0.7</tspan><tspan x="34.5" y="133.7">1</tspan><tspan x="34.5" y="183.8">0.7</tspan><tspan x="34.5" y="233.9">0.8</tspan><tspan x="34.5" y="284">0.7</tspan><tspan x="34.5" y="334.1">1</tspan><tspan x="34.5" y="384.2">0.7</tspan><tspan x="34.5" y="434.3">0</tspan></text>
</g></g>

<g id="result">
<text class="t" font-weight="bold" font-size="27" x="2540" y="1991">AVERAGE OF ALL VOTES:</text>
<text class="t" font-weight="bold" font-size="30" x="2540" y="2032">0.8</text>
</g>

<g id="connectors"></g>
</svg>
